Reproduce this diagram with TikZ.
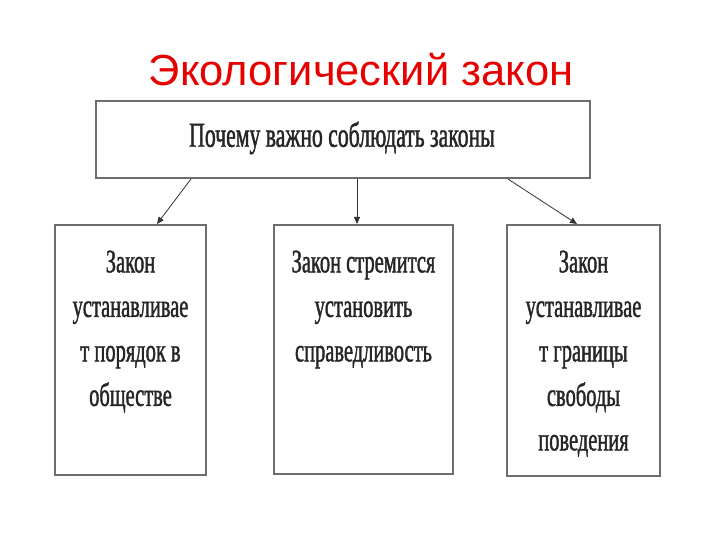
\documentclass[tikz,border=0pt]{standalone}
\usepackage{fontspec}
\setmainfont{Liberation Serif}
\newfontfamily\titlefont{Liberation Sans}
\newfontfamily\boxfont[FakeStretch=0.62,FakeBold=1.2]{Liberation Serif}
\usetikzlibrary{arrows.meta}
\definecolor{titlered}{RGB}{230,0,0}
\definecolor{boxline}{RGB}{110,110,110}
\begin{document}
\begin{tikzpicture}[x=1pt,y=-1pt,
  boxstyle/.style={draw=boxline,line width=1.6pt,fill=white,inner sep=0pt},
  conn/.style={draw=black!80,line width=0.8pt,-{Triangle[length=7pt,width=6pt]}},
  boxtext/.style={font=\boxfont\fontsize{33}{44.5}\selectfont,align=center,text=black!85}]
\useasboundingbox (0,0) rectangle (720,540);
\node[font=\titlefont\fontsize{43.5}{48}\selectfont,text=titlered] (title) at (361,70) {Экологический закон};
\draw[boxstyle] (96,101) rectangle (590,178);
\node (top) [minimum width=494pt,minimum height=77pt] at (343,139.5) {};
\node[font=\boxfont\fontsize{35}{38}\selectfont,text=black!85] (toptext) at (342,138) {Почему важно соблюдать законы};
\draw[boxstyle] (55,225) rectangle (206,475);
\draw[boxstyle] (274,225) rectangle (453,474);
\draw[boxstyle] (507,225) rectangle (660,476);
\coordinate (b1) at (157,224);
\coordinate (b2) at (357,224);
\coordinate (b3) at (577,224);
\coordinate (t1) at (191,179);
\coordinate (t2) at (357,179);
\coordinate (t3) at (508,179);
\node[boxtext,anchor=north] (l) at (130.5,247) {Закон\\устанавливае\\т порядок в\\обществе};
\node[boxtext,anchor=north] (m) at (363.5,247) {Закон стремится\\установить\\справедливость};
\node[boxtext,anchor=north] (r) at (583.5,247) {Закон\\устанавливае\\т границы\\свободы\\поведения};
\draw[conn] (t1) -- (b1);
\draw[conn] (t2) -- (b2);
\draw[conn] (t3) -- (b3);
\end{tikzpicture}
\end{document}
